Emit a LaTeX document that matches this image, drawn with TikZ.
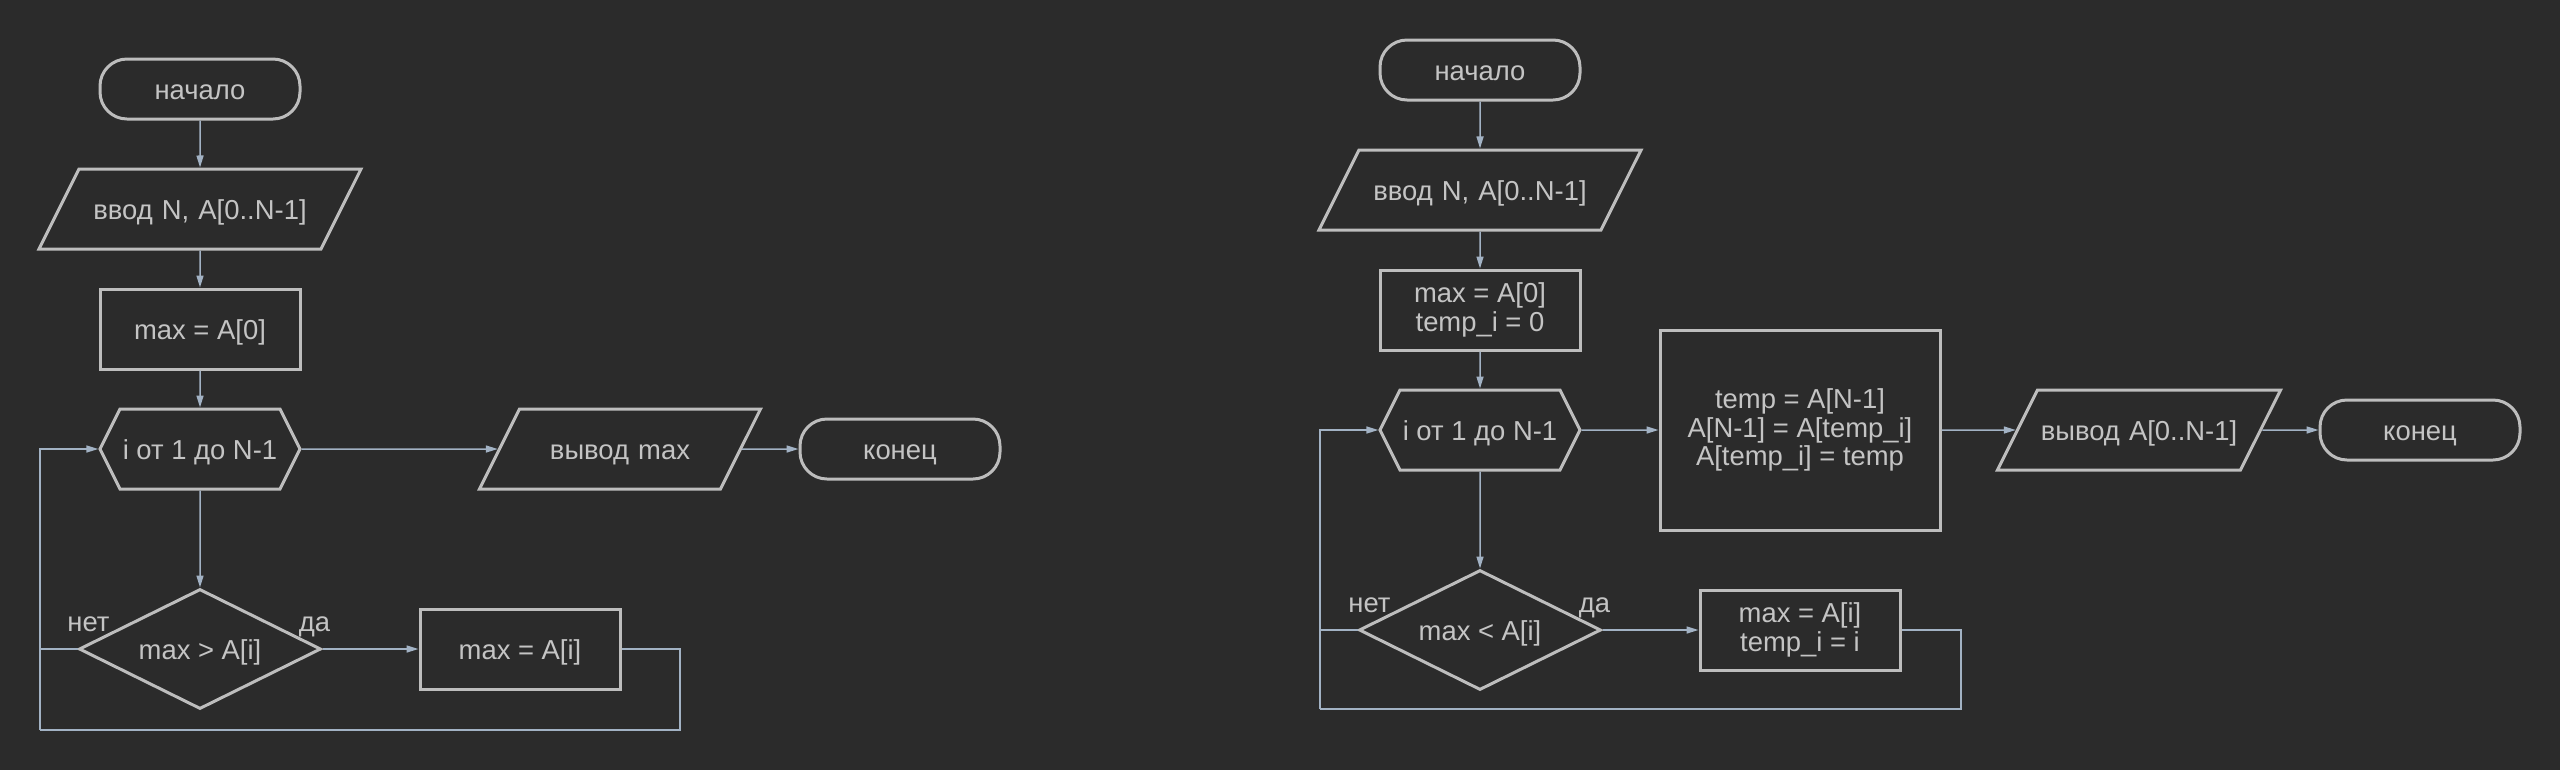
\documentclass[tikz,border=0pt]{standalone}
\usepackage{fontspec}
\setmainfont{Liberation Sans}
\usetikzlibrary{positioning,shapes.geometric,shapes.symbols,arrows.meta}
\definecolor{bgc}{HTML}{2B2B2B}
\definecolor{framec}{HTML}{BDBDBD}
\definecolor{inkc}{HTML}{C4C4C4}
\definecolor{wirec}{HTML}{A2B2C4}
\tikzset{
 base/.style={draw=framec, line width=0.03cm, text=inkc, align=center, inner sep=0pt,
  font=\fontsize{7.8}{8.2}\selectfont},
 oneline/.style={text height=0.2cm, text depth=0pt},
 term/.style={base, oneline, rectangle, rounded corners=0.27cm, minimum width=2cm, minimum height=0.6cm},
 proc/.style={base, rectangle, minimum width=2cm, minimum height=0.8cm},
 io/.style={base, trapezium, trapezium left angle=63.4, trapezium right angle=116.6,
  text height=0.5cm, text depth=0.3cm},
 loopbox/.style={base, oneline, signal, signal to=east and west, signal pointer angle=126.87,
  minimum width=2cm, minimum height=0.8cm},
 cond/.style={base, oneline, diamond, aspect=2, minimum width=2.42cm, minimum height=1.2cm},
 lbl/.style={text=inkc, inner sep=0pt, oneline, font=\fontsize{7.8}{8.2}\selectfont},
 wire/.style={draw=wirec, line width=0.015cm},
 arr/.style={wire, -{Triangle[length=0.12cm,width=0.07cm]}}
}
\begin{document}
\begin{tikzpicture}[on grid]
 \useasboundingbox[fill=bgc] (0,0) rectangle (25.6,-7.7);
 % first chart
 \node[term] (startL) at (2,-0.89) {начало};
 \node[io, text width=2.42cm, below=1.2cm of startL] (inL) {ввод N, A[0..N-1]};
 \node[proc, oneline, below=1.2cm of inL] (initL) {max = A[0]};
 \node[loopbox, below=1.2cm of initL] (loopL) {i от 1 до N-1};
 \node[cond, below=2cm of loopL] (decL) {max > A[i]};
 \node[proc, oneline, right=3.2cm of decL] (updL) {max = A[i]};
 \node[io, text width=2.01cm, right=4.2cm of loopL] (outL) {вывод max};
 \node[term, right=2.8cm of outL] (endL) {конец};
 \node[lbl] (noL) at ([shift={(0.11,0.28)}]decL.west) {нет};
 \node[lbl] (yesL) at ([shift={(-0.08,0.28)}]decL.east) {да};
 \coordinate (backL) at (0.40,-7.30);
 \coordinate (turnL) at (6.80,-7.30);
 \draw[arr] (startL) -- (inL);
 \draw[arr] (inL) -- (initL);
 \draw[arr] (initL) -- (loopL);
 \draw[arr] (loopL) -- (decL);
 \draw[arr] (loopL) -- (outL);
 \draw[arr] (outL) -- (endL);
 \draw[arr] (decL) -- (updL);
 \draw[wire] (decL.west) -- (decL.west -| backL);
 \draw[wire] (updL.east) -| (turnL) -- (backL);
 \draw[arr] (backL) |- (loopL.west);
 % second chart
 \node[term] (startR) at (14.8,-0.70) {начало};
 \node[io, text width=2.42cm, below=1.2cm of startR] (inR) {ввод N, A[0..N-1]};
 \node[proc, below=1.2cm of inR] (initR) {max = A[0]\\temp\_i = 0};
 \node[loopbox, below=1.2cm of initR] (loopR) {i от 1 до N-1};
 \node[cond, below=2cm of loopR] (decR) {max < A[i]};
 \node[proc, right=3.2cm of decR] (updR) {max = A[i]\\temp\_i = i};
 \node[proc, minimum width=2.8cm, minimum height=2cm, right=3.2cm of loopR] (swapR)
  {temp = A[N-1]\\A[N-1] = A[temp\_i]\\A[temp\_i] = temp};
 \node[io, text width=2.03cm, right=3.39cm of swapR] (outR) {вывод A[0..N-1]};
 \node[term, right=2.81cm of outR] (endR) {конец};
 \node[lbl] (noR) at ([shift={(0.12,0.28)}]decR.west) {нет};
 \node[lbl] (yesR) at ([shift={(-0.08,0.28)}]decR.east) {да};
 \coordinate (backR) at (13.20,-7.09);
 \coordinate (turnR) at (19.61,-7.09);
 \draw[arr] (startR) -- (inR);
 \draw[arr] (inR) -- (initR);
 \draw[arr] (initR) -- (loopR);
 \draw[arr] (loopR) -- (decR);
 \draw[arr] (loopR) -- (swapR);
 \draw[arr] (swapR) -- (outR);
 \draw[arr] (outR) -- (endR);
 \draw[arr] (decR) -- (updR);
 \draw[wire] (decR.west) -- (decR.west -| backR);
 \draw[wire] (updR.east) -| (turnR) -- (backR);
 \draw[arr] (backR) |- (loopR.west);
\end{tikzpicture}
\end{document}
